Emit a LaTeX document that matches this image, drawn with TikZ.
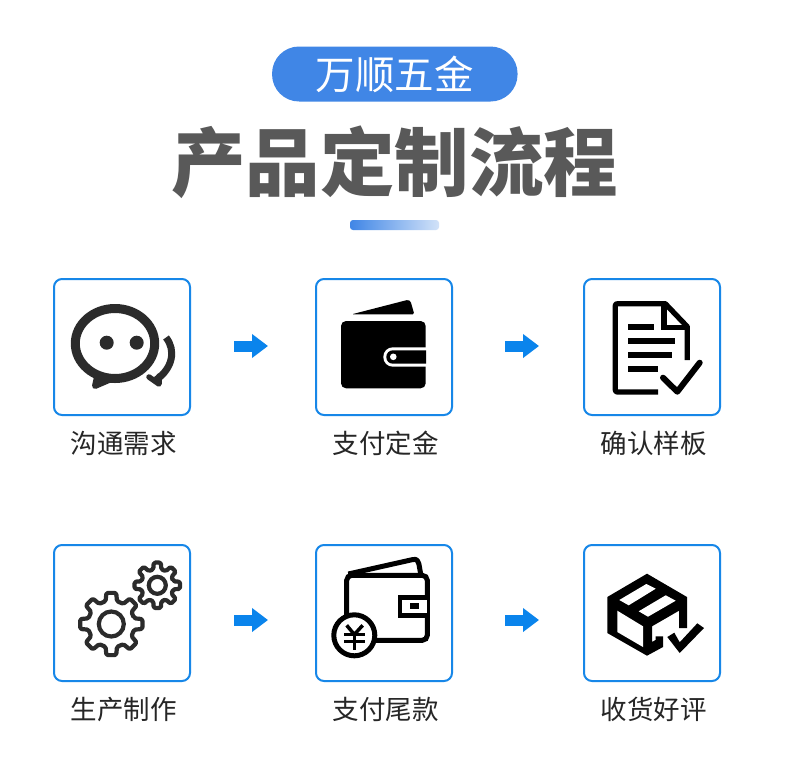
\documentclass[tikz,border=0pt]{standalone}
\usepackage{fontspec}
\newfontfamily\cjk{Noto Sans CJK SC}
\usetikzlibrary{arrows.meta}
\definecolor{pillblue}{HTML}{4086E6}
\definecolor{barpale}{HTML}{D2E2F8}
\definecolor{titlegray}{HTML}{595959}
\definecolor{framblue}{HTML}{1787E8}
\definecolor{arrowblue}{HTML}{0A84EC}
\definecolor{labelink}{HTML}{262626}
\definecolor{iconink}{HTML}{2B2B2B}

\tikzset{
  stepbox/.style={draw=framblue, line width=2pt, rounded corners=8pt, fill=white,
    minimum size=136pt, inner sep=0pt},
  steplabel/.style={text=labelink, font=\cjk\fontsize{26.5}{26.5}\selectfont, inner sep=0pt},
  flowarrow/.style={arrowblue, line width=11pt,
    -{Triangle[length=16pt, width=23pt]}},
  gearline/.style={draw=iconink, line width=4.2pt, rounded corners=1.5pt, line join=round},
}

% gear centre x, centre y, tooth radius, root radius, hub radius
\newcommand{\gearicon}[5]{
  \begin{scope}[shift={(#1,#2)}]
    \draw[gearline] (-14:#4) foreach \a in {0,45,...,315}{
        -- (\a-14:#4) -- (\a-9:#3) -- (\a+9:#3) -- (\a+14:#4)} -- cycle;
    \draw[iconink, line width=4.2pt] (0,0) circle (#5);
  \end{scope}
}

\begin{document}
\begin{tikzpicture}[x=1pt, y=-1pt]

    \fill[white] (0,0) rectangle (790,772);
    \useasboundingbox (0,0) rectangle (790,772);

    %% Header
    \node (pill) [fill=pillblue, rounded corners=27pt, minimum width=245.5pt,
      minimum height=55pt, inner sep=0pt, text=white,
      font=\cjk\fontsize{39.5}{39.5}\selectfont] at (394.8,74) {万顺五金};
    \node (title) [text=titlegray, inner sep=0pt,
      font=\cjk\bfseries\fontsize{74.5}{74.5}\selectfont] at (394.5,162) {产品定制流程};
    \node (bar) [left color=pillblue, right color=barpale, rounded corners=3pt,
      minimum width=89pt, minimum height=10pt, inner sep=0pt] at (394.5,225) {};

    %% Step boxes
    \node (talk)    [stepbox] at (122,347) {};
    \node (deposit) [stepbox] at (384,347) {};
    \node (sample)  [stepbox] at (652,347) {};
    \node (make)    [stepbox] at (122,613) {};
    \node (balance) [stepbox] at (384,613) {};
    \node (review)  [stepbox] at (652,613) {};

    \node (talklabel)    [steplabel] at (123.5,443.5) {沟通需求};
    \node (depositlabel) [steplabel] at (385.5,443.5) {支付定金};
    \node (samplelabel)  [steplabel] at (653.5,443.5) {确认样板};
    \node (makelabel)    [steplabel] at (123.5,709.5) {生产制作};
    \node (balancelabel) [steplabel] at (385.5,709.5) {支付尾款};
    \node (reviewlabel)  [steplabel] at (653.5,709.5) {收货好评};

    %% Arrows
    \draw[flowarrow, shorten <=43pt, shorten >=47pt]
      ([yshift=1pt]talk.east) -- ([yshift=1pt]deposit.west);
    \draw[flowarrow, shorten <=52pt, shorten >=44pt]
      ([yshift=1pt]deposit.east) -- ([yshift=1pt]sample.west);
    \draw[flowarrow, shorten <=43pt, shorten >=47pt]
      ([yshift=-7pt]make.east) -- ([yshift=-7pt]balance.west);
    \draw[flowarrow, shorten <=52pt, shorten >=44pt]
      ([yshift=-7pt]balance.east) -- ([yshift=-7pt]review.west);

    %% Icon: chat bubbles
    \draw[iconink, line width=9pt] (115,343.5) ellipse (39.7 and 35);
    \fill[iconink] (106.7,342.7) circle (7);
    \fill[iconink] (136.7,342.7) circle (7);
    \draw[iconink, line width=6pt, line join=round, line cap=round, fill=iconink]
      (97,377) -- (95,386) -- (109,380) -- cycle;
    \draw[iconink, line width=7pt] (166,337.5) .. controls (176,350) and (173,368) .. (156,380);
    \draw[iconink, line width=5.5pt, line join=round, line cap=round]
      (149,377) -- (159,384) -- (159,376);

    %% Icon: wallet
    \fill[black, rounded corners=5pt] (341,321) rectangle (425.7,388.3);
    \fill[black, rounded corners=1.5pt] (351.7,314.3) -- (408,299.8) -- (410.5,301) -- (414.3,314.3) -- cycle;
    \fill[white, rounded corners=9.5pt] (426,347.3) -- (383.3,347.3) -- (383.3,366.7) -- (426,366.7);
    \fill[black, rounded corners=6.5pt] (426,350.3) -- (386.3,350.3) -- (386.3,363.7) -- (426,363.7);
    \fill[white] (393.3,356.8) circle (3.3);

    %% Icon: document with tick
    \draw[black, line width=5.3pt, line join=round]
      (658,392) -- (618,392) .. controls (616,392) .. (615.3,390) -- (615.3,306)
      .. controls (615.3,304) .. (618,303.7) -- (665.3,303.7) -- (687.3,326.7) -- (687.3,360);
    \draw[black, line width=5.3pt] (664,303.7) -- (664,327.3) -- (687.3,327.3);
    \foreach \ly/\lx in {327.3/653.7, 341/675, 354.7/672.3, 368.7/658}{
      \draw[black, line width=6pt] (628,\ly) -- (\lx,\ly);
    }
    \draw[black, line width=6pt, line cap=round, line join=round]
      (663,377.7) -- (677.3,391.7) -- (699.7,362.7);

    %% Icon: gears
    \gearicon{111.3}{624}{31.5}{23.5}{12.5}
    \gearicon{157.3}{585.3}{23}{16.5}{8.5}

    %% Icon: wallet with yen coin
    \draw[black, line width=5pt, rounded corners=5pt]
      (346.7,640.3) rectangle (427.3,575.3);
    \draw[black, line width=5pt, line join=round]
      (348.3,574) -- (413,559.5) .. controls (417,558.8) and (418,561) .. (418.8,563.5) -- (420.7,574);
    \draw[black, line width=4.5pt, fill=white] (427.3,597.5) -- (400,597.5) -- (400,615.3) -- (427.3,615.3);
    \fill[black] (410,603) rectangle (419,609.3);
    \draw[black, line width=5pt, fill=white] (354.3,635.3) circle (20.5);
    \draw[black, line width=3.5pt] (346.7,625.3) -- (354.3,634.5) -- (362.7,625.3);
    \draw[black, line width=3pt] (344.3,634.5) -- (365,634.5);
    \draw[black, line width=3pt] (344.3,641.3) -- (365,641.3);
    \draw[black, line width=3.5pt] (354.3,634.5) -- (354.3,649.7);

    %% Icon: parcel with tick
    \fill[black] (647,573.7) -- (687,597) -- (687,628) -- (679,628) -- (679,610.7)
      -- (652,626.3) -- (652,642) -- (655.5,640) -- (655.5,636.3) -- (663,636.3)
      -- (663,647) -- (647,655.7) -- (607.3,633) -- (607.3,597) -- cycle;
    \fill[white] (646.3,584) -- (655.7,588.7) -- (628.7,605.3) -- (619.3,600) -- cycle;
    \fill[white] (665.7,595.3) -- (675.7,600.7) -- (648,616.7) -- (638.7,611.3) -- cycle;
    \fill[white] (617.3,610.7) -- (643,626.3) -- (643,647) -- (617.3,632) -- cycle;
    \fill[black] (667.3,637) -- (674.3,632.7) -- (679.7,642.3) -- (697.3,623.3) -- (704,628)
      -- (679.7,653) -- cycle;

\end{tikzpicture}
\end{document}
